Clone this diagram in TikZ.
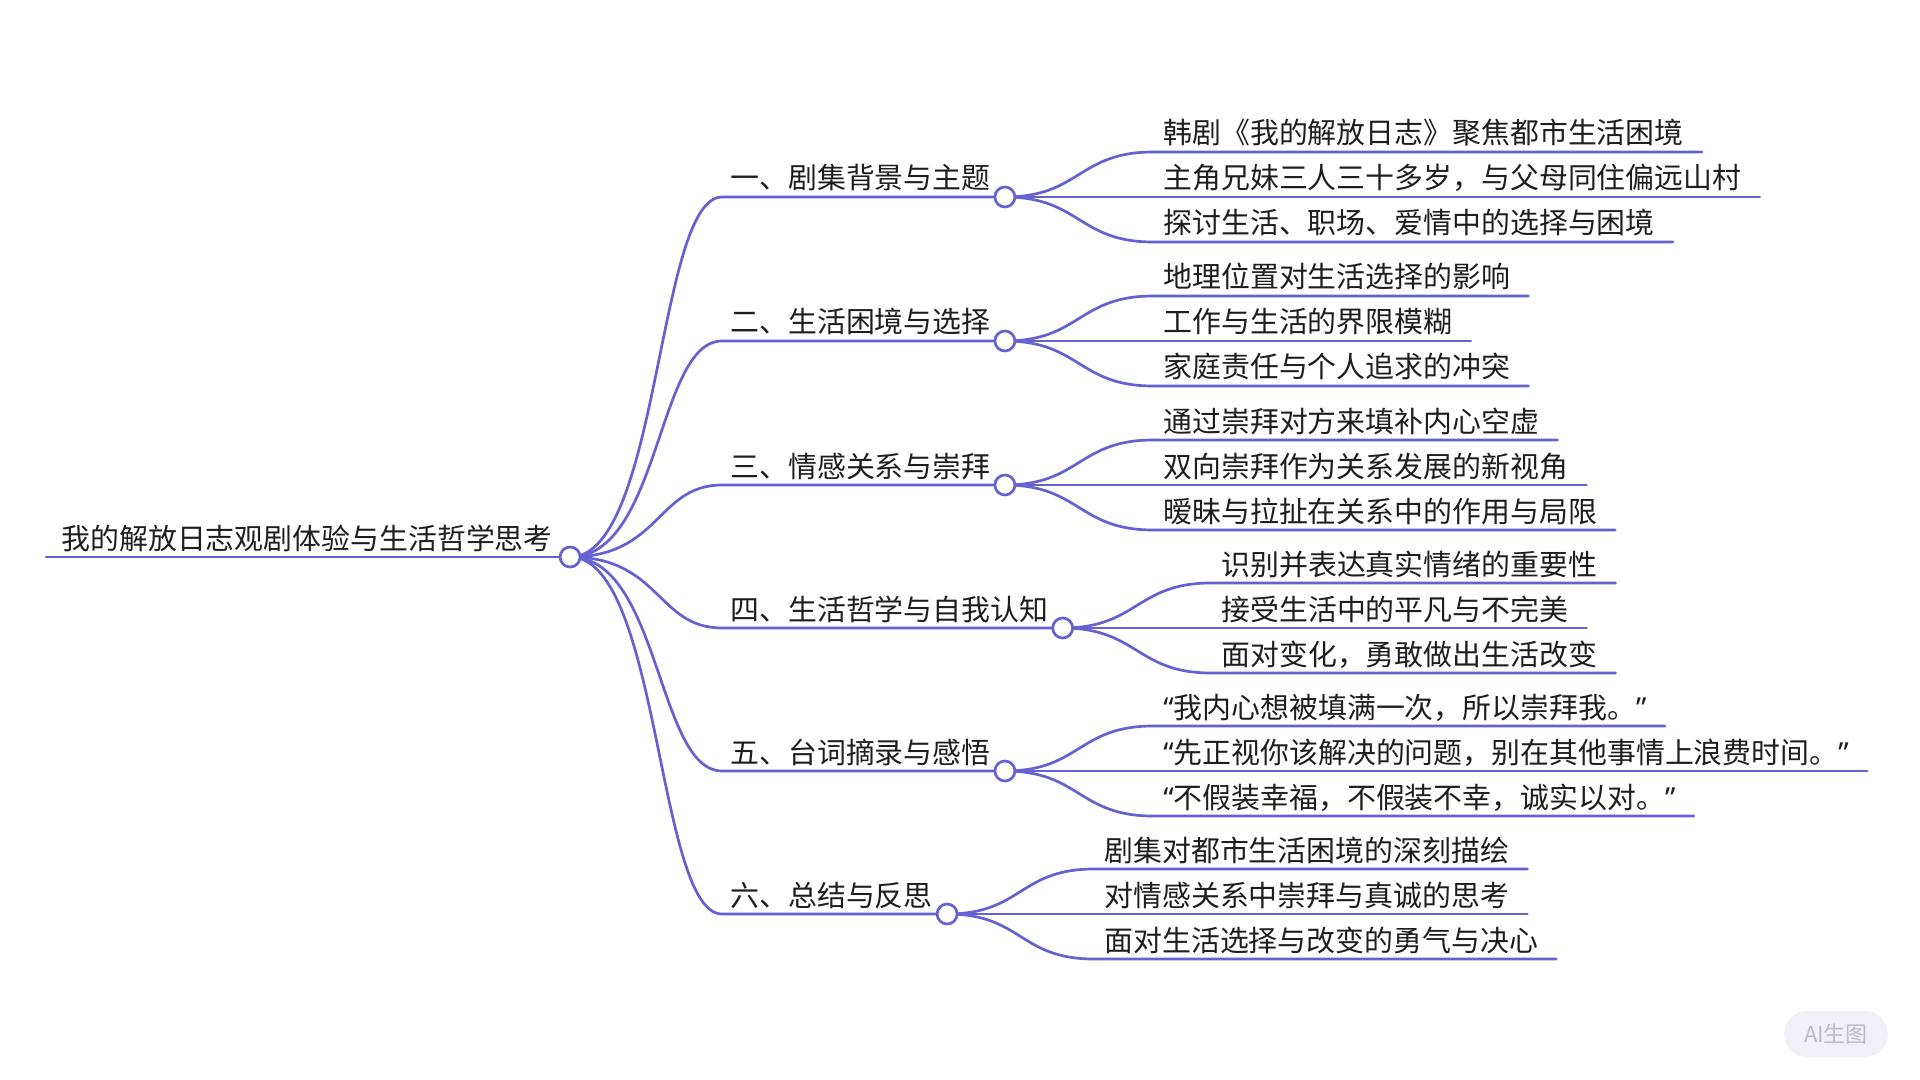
\documentclass[tikz,border=0pt]{standalone}
\usepackage{fontspec}
\setmainfont{Noto Sans CJK SC}
\newfontfamily\quotefont{Noto Sans}
\definecolor{mapline}{RGB}{102,96,208}
\definecolor{maptext}{RGB}{30,30,30}
\definecolor{badgefill}{RGB}{240,240,246}
\definecolor{badgetext}{RGB}{188,188,200}
\tikzset{
  branch/.style={draw=mapline, line width=1.35pt, line cap=round},
  knot/.style={circle, draw=mapline, fill=white, line width=1.35pt, minimum size=10pt, inner sep=0pt},
  topic/.style={anchor=base west, inner sep=0pt, text=maptext},
  badge/.style={fill=badgefill, text=badgetext, rounded corners=11.5pt, minimum width=52pt, minimum height=23pt, font=\fontsize{11pt}{13pt}\selectfont}
}
\begin{document}
\begin{tikzpicture}[x=0.5pt, y=-0.5pt, font=\fontsize{14.45pt}{17pt}\selectfont]
    \useasboundingbox[fill=white] (0,0) rectangle (1920,1080);
    % root
    \node[topic] (rootT) at (61,549) {我的解放日志观剧体验与生活哲学思考};
    \coordinate (root) at ([shift={(17,8)}]rootT.base east);
    \draw[branch] ([shift={(-15,8)}]rootT.base west) -- (root);
    % branches
    \node[topic] (b1T) at (730,189) {一、剧集背景与主题};
    \node[topic] (b2T) at (730,333) {二、生活困境与选择};
    \node[topic] (b3T) at (730,477) {三、情感关系与崇拜};
    \node[topic] (b4T) at (730,620) {四、生活哲学与自我认知};
    \node[topic] (b5T) at (730,763) {五、台词摘录与感悟};
    \node[topic] (b6T) at (730,906) {六、总结与反思};
    \foreach \b in {b1,b2,b3,b4,b5,b6} {
        \coordinate (\b) at ([shift={(14,8)}]\b T.base east);
        \draw[branch] (root) .. controls +(90,0) and +(-65,0) .. ([shift={(-8,8)}]\b T.base west) -- (\b);
    }
    % leaves
    \node[topic] (l11) at (1163,144) {韩剧《我的解放日志》聚焦都市生活困境};
    \node[topic] (l12) at (1163,189) {主角兄妹三人三十多岁，与父母同住偏远山村};
    \node[topic] (l13) at (1163,234) {探讨生活、职场、爱情中的选择与困境};
    \node[topic] (l21) at (1163,288) {地理位置对生活选择的影响};
    \node[topic] (l22) at (1163,333) {工作与生活的界限模糊};
    \node[topic] (l23) at (1163,378) {家庭责任与个人追求的冲突};
    \node[topic] (l31) at (1163,432) {通过崇拜对方来填补内心空虚};
    \node[topic] (l32) at (1163,477) {双向崇拜作为关系发展的新视角};
    \node[topic] (l33) at (1163,522) {暧昧与拉扯在关系中的作用与局限};
    \node[topic] (l41) at (1221,575) {识别并表达真实情绪的重要性};
    \node[topic] (l42) at (1221,620) {接受生活中的平凡与不完美};
    \node[topic] (l43) at (1221,665) {面对变化，勇敢做出生活改变};
    \node[topic] (l51) at (1163,718) {{\quotefont “}我内心想被填满一次，所以崇拜我。{\quotefont ”}};
    \node[topic] (l52) at (1163,763) {{\quotefont “}先正视你该解决的问题，别在其他事情上浪费时间。{\quotefont ”}};
    \node[topic] (l53) at (1163,808) {{\quotefont “}不假装幸福，不假装不幸，诚实以对。{\quotefont ”}};
    \node[topic] (l61) at (1104,861) {剧集对都市生活困境的深刻描绘};
    \node[topic] (l62) at (1104,906) {对情感关系中崇拜与真诚的思考};
    \node[topic] (l63) at (1104,951) {面对生活选择与改变的勇气与决心};
    \foreach \b/\l in {b1/l11,b1/l12,b1/l13,b2/l21,b2/l22,b2/l23,b3/l31,b3/l32,b3/l33,
                       b4/l41,b4/l42,b4/l43,b5/l51,b5/l52,b5/l53,b6/l61,b6/l62,b6/l63}
        \draw[branch] (\b) .. controls +(75,0) and +(-75,0) .. ([shift={(-10,8)}]\l.base west) -- ([shift={(18,8)}]\l.base east);
    % knots on top
    \foreach \k in {root,b1,b2,b3,b4,b5,b6}
        \node[knot] at (\k) {};
    \node[badge] (mark) at (1836,1034) {AI生图};
\end{tikzpicture}
\end{document}
